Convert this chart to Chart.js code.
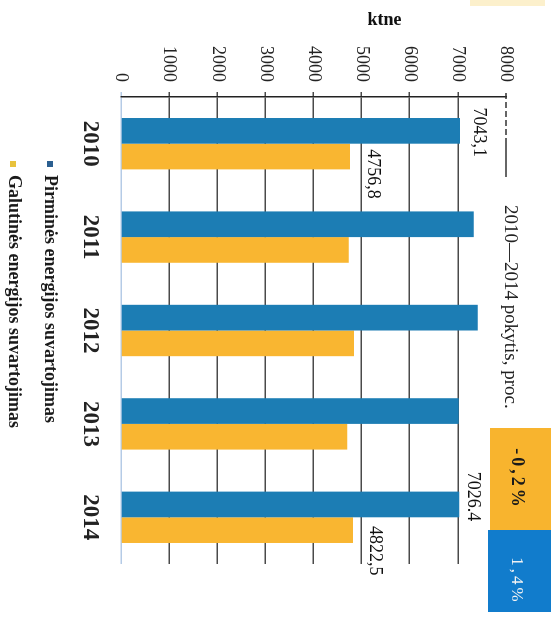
<!DOCTYPE html>
<html><head><meta charset="utf-8">
<script src="https://cdn.jsdelivr.net/npm/chart.js@4.4.1/dist/chart.umd.min.js"></script>
<style>
html,body{margin:0;padding:0;background:#fff;overflow:hidden;width:551px;height:626px;}
#wrap{position:absolute;left:0;top:0;width:626px;height:551px;transform-origin:0 0;transform:translate(551px,0) rotate(90deg);background:#fff;}
canvas{display:block;}
</style></head><body>
<div id="wrap"><canvas id="c" width="626" height="551"></canvas></div>
<script>
// ---- data ----
const years = ['2010', '2011', '2012', '2013', '2014'];
const primaryValues = [7043.1, 7330, 7415, 7020, 7026.4];
const finalValues = [4756.8, 4735, 4840, 4700, 4822.5];
const primaryLabels = ['7043,1', null, null, null, '7026.4'];
const finalLabels = ['4756,8', null, null, null, '4822,5'];
const valueTicks = [0, 1000, 2000, 3000, 4000, 5000, 6000, 7000, 8000];
const valueTickLabels = ['0', '1000', '2000', '3000', '4000', '5000', '6000', '7000', '8000'];
const seriesNames = ['Pirminės energijos suvartojimas', 'Galutinės energijos suvartojimas'];
const axisTitle = 'ktne';
const changeTitle = '2010—2014 pokytis, proc.';
const changeLabels = ['-0,2%', '1,4%'];

// ---- style ----
const FONT = "'Liberation Serif', 'DejaVu Serif', serif";
const BLUE = '#1c7db4';
const ORANGE = '#f9b631';
const BOX_ORANGE = '#f8b42e';
const BOX_BLUE = '#117ccc';
const labelShift = [
  [[1.5, 14], null, null, null, [-8, 9]],
  [[17.5, 18], null, null, null, [20.5, 17]]
];

const extras = {
  id: 'extras',
  afterDatasetsDraw(chart) {
    const ctx = chart.ctx;
    const sets = [primaryLabels, finalLabels];
    ctx.save();
    ctx.fillStyle = '#111';
    ctx.font = '18px ' + FONT;
    ctx.textAlign = 'center';
    ctx.textBaseline = 'alphabetic';
    sets.forEach((labels, di) => {
      const meta = chart.getDatasetMeta(di);
      labels.forEach((t, j) => {
        if (!t) return;
        const el = meta.data[j];
        const s = labelShift[di][j];
        ctx.fillText(t, el.x + s[0], el.y - s[1]);
      });
    });
    ctx.restore();
  },
  afterDraw(chart) {
    const ctx = chart.ctx;
    const y = chart.scales.y;
    const top = y.getPixelForValue(8000);
    ctx.save();
    // partial top line
    ctx.strokeStyle = '#333';
    ctx.lineWidth = 1.5;
    ctx.setLineDash([6, 3]);
    ctx.beginPath();
    ctx.moveTo(93, top); ctx.lineTo(140, top); ctx.stroke();
    ctx.setLineDash([]);
    ctx.beginPath();
    ctx.moveTo(140, top); ctx.lineTo(177, top); ctx.stroke();

    // axis title (ktne)
    ctx.save();
    ctx.translate(20, 166.5);
    ctx.rotate(-Math.PI / 2);
    ctx.fillStyle = '#111';
    ctx.font = 'bold 18px ' + FONT;
    ctx.textAlign = 'center';
    ctx.textBaseline = 'middle';
    ctx.fillText(axisTitle, 0, 0);
    ctx.restore();

    // change title
    ctx.fillStyle = '#222';
    ctx.font = '19px ' + FONT;
    ctx.textAlign = 'left';
    ctx.textBaseline = 'alphabetic';
    ctx.fillText(changeTitle, 205, 46);

    // faint strip
    ctx.fillStyle = '#fcf0cc';
    ctx.fillRect(0, 6, 6, 75);

    // change boxes
    ctx.fillStyle = BOX_ORANGE;
    ctx.fillRect(428, 0, 102, 61);
    ctx.fillStyle = BOX_BLUE;
    ctx.fillRect(530, 0, 82, 63);
    ctx.textAlign = 'center';
    ctx.textBaseline = 'middle';
    try { ctx.letterSpacing = '3px'; } catch (e) {}
    ctx.fillStyle = '#1a1a1a';
    ctx.font = 'bold 18px ' + FONT;
    ctx.fillText(changeLabels[0], 479, 34);
    ctx.fillStyle = '#f4f4f4';
    ctx.font = '17px ' + FONT;
    ctx.fillText(changeLabels[1], 581, 35);
    try { ctx.letterSpacing = '0px'; } catch (e) {}

    // legend
    const rows = [[501, 506], [538, 542]];
    const marks = ['#2b5f90', '#e8c23c'];
    ctx.font = 'bold 18px ' + FONT;
    ctx.textAlign = 'left';
    ctx.textBaseline = 'alphabetic';
    seriesNames.forEach((n, i) => {
      ctx.fillStyle = marks[i];
      ctx.fillRect(161, rows[i][0] - 3, 6, 6);
      ctx.fillStyle = '#1a1a1a';
      ctx.fillText(n, 175, rows[i][1]);
    });
    ctx.restore();
  }
};

new Chart(document.getElementById('c'), {
  type: 'bar',
  data: {
    labels: years,
    datasets: [
      { label: seriesNames[0], data: primaryValues, backgroundColor: BLUE, borderWidth: 0 },
      { label: seriesNames[1], data: finalValues, backgroundColor: ORANGE, borderWidth: 0 }
    ]
  },
  options: {
    responsive: false,
    devicePixelRatio: 1,
    animation: false,
    layout: { padding: { left: 0, top: 45, right: 62, bottom: 0 } },
    datasets: { bar: { categoryPercentage: 0.55, barPercentage: 1.0 } },
    plugins: { legend: { display: false }, tooltip: { enabled: false } },
    scales: {
      x: {
        grid: { display: false },
        border: { display: false },
        ticks: { font: { family: FONT, size: 23, weight: 'bold' }, color: '#222', padding: 9 },
        afterFit: (s) => { s.height = 121; }
      },
      y: {
        min: 0, max: 8000,
        afterBuildTicks: (s) => { s.ticks = valueTicks.map(v => ({ value: v })); },
        grid: {
          color: (c) => c.tick && c.tick.value === 0 ? 'rgba(90,140,200,0.45)' : (c.tick && c.tick.value === 8000 ? 'rgba(0,0,0,0)' : '#4a4a4a'),
          lineWidth: 1.5,
          tickLength: 5
        },
        border: { display: true, color: '#222', width: 1.5 },
        ticks: {
          font: { family: FONT, size: 18 }, color: '#222', padding: 10,
          callback: (v, i) => valueTickLabels[i]
        },
        afterFit: (s) => { s.width = 97; }
      }
    }
  },
  plugins: [extras]
});
</script>
</body></html>
